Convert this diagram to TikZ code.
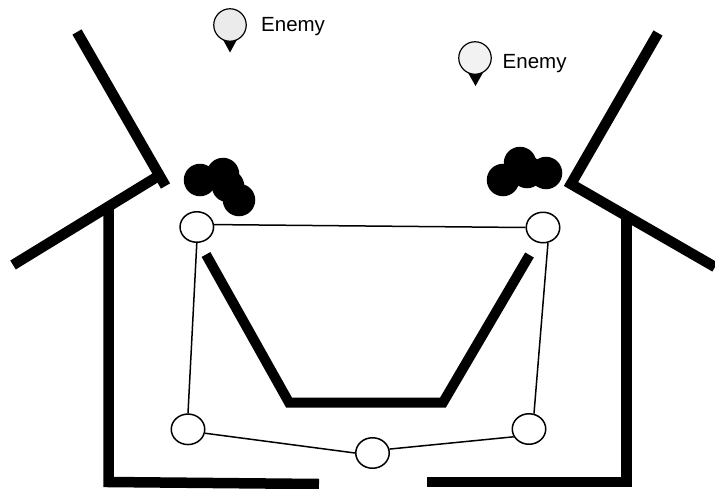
\documentclass[tikz,border=0pt]{standalone}
\usepackage{fontspec}
\setmainfont{Liberation Sans}
\usetikzlibrary{shapes.geometric}
\tikzset{
  wall/.style={line width=10.5pt,line cap=butt,line join=miter,black},
  bowl/.style={line width=10pt,line cap=butt,line join=miter,black},
  waypoint/.style={ellipse,draw=black,line width=1.5pt,fill=white,minimum width=33.5pt,minimum height=30.5pt,inner sep=0pt},
  link/.style={line width=1.5pt,black},
  enemybody/.style={circle,draw=black,line width=1.2pt,fill=black!8,minimum size=32.5pt,inner sep=0pt},
  label/.style={font=\fontsize{20.5}{22}\selectfont,anchor=west,inner sep=0pt,text=black},
  smoke/.style={circle,fill=black,minimum size=32.5pt,inner sep=0pt}
}
\begin{document}
\begin{tikzpicture}[x=1pt,y=-1pt]
\useasboundingbox (0,0) rectangle (715,488);
\draw[wall] (77,32) -- (165.5,186);
\draw[wall] (13,265) -- (160,175);
\draw[wall] (108.5,207) -- (108.5,482) -- (319,484);
\draw[wall] (658,33) -- (571,184) -- (715,267);
\draw[wall] (626.5,219) -- (626.5,482) -- (427,482);
\draw[bowl] (206,254.5) -- (289,402.5) -- (443,402.5) -- (529.5,255);
\foreach \n/\x/\y in {s1/200/180,s2/223/174,s3/228/186,s4/239/200,s5/503/180,s6/520/163,s7/527/172,s8/546/173}
  \node[smoke] (\n) at (\x,\y) {};
\node[waypoint] (a) at (196.8,227) {};
\node[waypoint] (b) at (543,227.5) {};
\node[waypoint] (c) at (188,429.3) {};
\node[waypoint] (d) at (529,429) {};
\node[waypoint] (e) at (372.5,453) {};
\draw[link] (a.8) -- (b.180);
\draw[link] (a.south) -- (c.north);
\draw[link] (b.-72) -- (d.72);
\draw[link] (c.-13) -- (e.180);
\draw[link] (e.13) -- (d.207);
\coordinate (t1) at (230,52.5);
\coordinate (t2) at (475.5,86);
\fill (221,36) -- (239,36) -- (t1) -- cycle;
\fill (466.5,70) -- (484.5,70) -- (t2) -- cycle;
\node[enemybody] (en1) at (230,25) {};
\node[enemybody,fill=black!5] (en2) at (475,58) {};
\node[label] (l1) at (261,27) {Enemy};
\node[label] (l2) at (502.5,64) {Enemy};
\end{tikzpicture}
\end{document}
